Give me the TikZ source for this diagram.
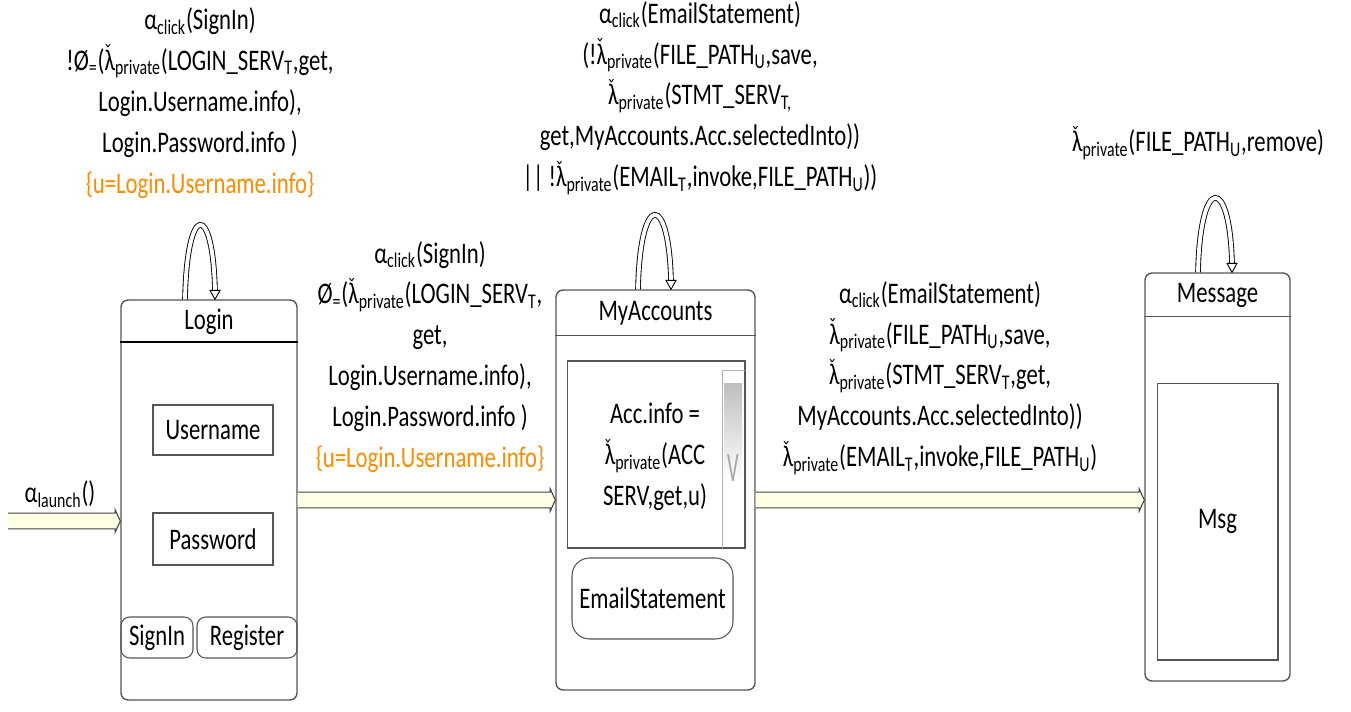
\documentclass[tikz,border=0pt]{standalone}
\usepackage{fontspec}
\setmainfont{Carlito}[FakeStretch=0.76]
\newfontfamily\markfont{DejaVu Sans}
\usetikzlibrary{calc,positioning}

\definecolor{shaftfill}{RGB}{255,255,230}
\definecolor{condorange}{RGB}{255,140,0}
\definecolor{framegray}{RGB}{85,85,85}

\newcommand{\lamc}{\makebox[0pt][l]{\kern-0.6pt\raisebox{6.5pt}{\markfont\fontsize{10}{10}\selectfont ˇ}}λ}
\newcommand{\priv}{\lamc\textsubscript{private}}
\newcommand{\clk}{α\textsubscript{click}}

% hollow transition arrow between two screens
\newcommand{\fatarrow}[2]{%
  \fill[shaftfill] let \p1=(#1), \p2=(#2) in
    (\x1,\y1+4.5pt) -- (\x2-3pt,\y1+4.5pt) -- (\x2-3pt,\y1+6.5pt) -- (\x2,\y1)
    -- (\x2-3pt,\y1-6.5pt) -- (\x2-3pt,\y1-4.5pt) -- (\x1,\y1-4.5pt) -- cycle;
  \draw[shaftline] let \p1=(#1), \p2=(#2) in
    (\x1,\y1+4.5pt) -- (\x2-3pt,\y1+4.5pt) -- (\x2-3pt,\y1+6.5pt) -- (\x2,\y1)
    -- (\x2-3pt,\y1-6.5pt) -- (\x2-3pt,\y1-4.5pt) -- (\x1,\y1-4.5pt);
}
% self transition on top of a screen
\newcommand{\selfloop}[2]{%
  \draw[loopline] (#1) .. controls ($(#1)+(2,-98)$) and ($(#2)+(-2,-98)$) .. ($(#2)+(0,-8)$);
  \draw[fill=white, line width=0.5pt] ($(#2)+(-5,-9)$) -- ($(#2)+(5,-9)$) -- (#2) -- cycle;
}

\tikzset{
  every node/.style={font=\fontsize{17}{23.3}\selectfont},
  screen/.style={draw=framegray, line width=0.8pt, rounded corners=4pt},
  field/.style={draw=framegray, line width=0.6pt, inner sep=0pt},
  button/.style={draw=framegray, line width=0.6pt, rounded corners=5pt, inner sep=0pt},
  lbl/.style={align=center, inner sep=0pt},
  loopline/.style={double=white, double distance=2.2pt, line width=0.5pt},
  shaftline/.style={black!75, line width=0.6pt},
}

\begin{document}
\begin{tikzpicture}[x=0.02cm, y=-0.02cm]
\useasboundingbox (0,0) rectangle (1351,712);

% screens
\node[screen, minimum width=3.52cm, minimum height=8cm] (login) at (209,500) {};
\node[screen, minimum width=3.98cm, minimum height=8cm] (myacc) at (655.5,490) {};
\node[screen, minimum width=2.9cm, minimum height=8.16cm] (msgscr) at (1217.5,477) {};

\node[inner sep=0pt] (logintitle) at ($(login.north)+(0,22)$) {Login};
\node[inner sep=0pt] (myacctitle) at ($(myacc.north)+(0,24)$) {MyAccounts};
\node[inner sep=0pt] (msgtitle) at ($(msgscr.north)+(0,23)$) {Message};
\draw[black, line width=1pt] ($(login.north west)+(0,43)$) -- ($(login.north east)+(0,43)$);
\draw[framegray, line width=0.8pt] ($(myacc.north west)+(0,46)$) -- ($(myacc.north east)+(0,46)$);
\draw[framegray, line width=0.8pt] ($(msgscr.north west)+(0,44)$) -- ($(msgscr.north east)+(0,44)$);

% Login widgets
\node[field, minimum width=2.4cm, minimum height=1cm] (username) at (213,430) {Username};
\node[field, minimum width=2.4cm, minimum height=1.04cm] (password) at (213,539) {Password};
\node[button, minimum width=1.44cm, minimum height=0.82cm] (signin) at (157,637.5) {SignIn};
\node[button, minimum width=2cm, minimum height=0.82cm] (register) at (247,637.5) {Register};

% MyAccounts widgets
\node[field, minimum width=3.56cm, minimum height=3.74cm] (acclist) at (656,454.5) {};
\draw[black!30] (722,548) -- (722,370) -- (745,370);
\shade[top color=black!25, bottom color=white] (724,384) rectangle (742,480);
\node[text=black!35, inner sep=0pt] (scrollv) at (733,468) {\scalebox{0.9}[1.4]{V}};
\node[lbl] (accinfo) at (655,457) {Acc.info =\\\priv(ACC\\SERV,get,u)};
\node[button, rounded corners=10pt, minimum width=3.22cm, minimum height=1.62cm] (emailbtn) at (652.5,598.5) {EmailStatement};

% Message widgets
\node[field, minimum width=2.42cm, minimum height=5.54cm] (msgbox) at (1217.5,521.5) {Msg};

% self loops
\coordinate (loginL) at ($(login.north)+(-24,0)$);
\coordinate (loginR) at ($(login.north)+(6,0)$);
\coordinate (myaccL) at ($(myacc.north)+(-17.5,0)$);
\coordinate (myaccR) at ($(myacc.north)+(15.5,0)$);
\coordinate (msgL) at ($(msgscr.north)+(-19.5,0)$);
\coordinate (msgR) at ($(msgscr.north)+(14.5,0)$);
\selfloop{loginL}{loginR}
\selfloop{myaccL}{myaccR}
\selfloop{msgL}{msgR}

% transitions
\coordinate (launchin) at (8,521);
\fatarrow{launchin}{launchin -| login.west}
\fatarrow{login.east}{login.east -| myacc.west}
\fatarrow{myacc.east |- login.east}{login.east -| msgscr.west}

% labels
\node[lbl] (lbllaunch) at (60,494) {α\textsubscript{launch}()};
\node[lbl] (lblloginloop) at (200,103) {\clk(SignIn)\\
  !Ø\textsubscript{=}(\priv(LOGIN\_SERV\textsubscript{T},get,\\
  Login.Username.info),\\
  Login.Password.info )\\
  \textcolor{condorange}{\{u=Login.Username.info\}}};
\node[lbl] (lblsignin) at (430,357) {\clk(SignIn)\\
  Ø\textsubscript{=}(\priv(LOGIN\_SERV\textsubscript{T},\\
  get,\\
  Login.Username.info),\\
  Login.Password.info )\\
  \textcolor{condorange}{\{u=Login.Username.info\}}};
\node[lbl] (lblaccloop) at (700,98) {\clk(EmailStatement)\\
  (!\priv(FILE\_PATH\textsubscript{U},save,\\
  \priv(STMT\_SERV\textsubscript{T,}\\
  get,MyAccounts.Acc.selectedInto))\\
  || !\priv(EMAIL\textsubscript{T},invoke,FILE\_PATH\textsubscript{U}))};
\node[lbl] (lblemail) at (940,378) {\clk(EmailStatement)\\
  \priv(FILE\_PATH\textsubscript{U},save,\\
  \priv(STMT\_SERV\textsubscript{T},get,\\
  MyAccounts.Acc.selectedInto))\\
  \priv(EMAIL\textsubscript{T},invoke,FILE\_PATH\textsubscript{U})};
\node[lbl] (lblmsgloop) at (1198,143) {\priv(FILE\_PATH\textsubscript{U},remove)};
\end{tikzpicture}
\end{document}
